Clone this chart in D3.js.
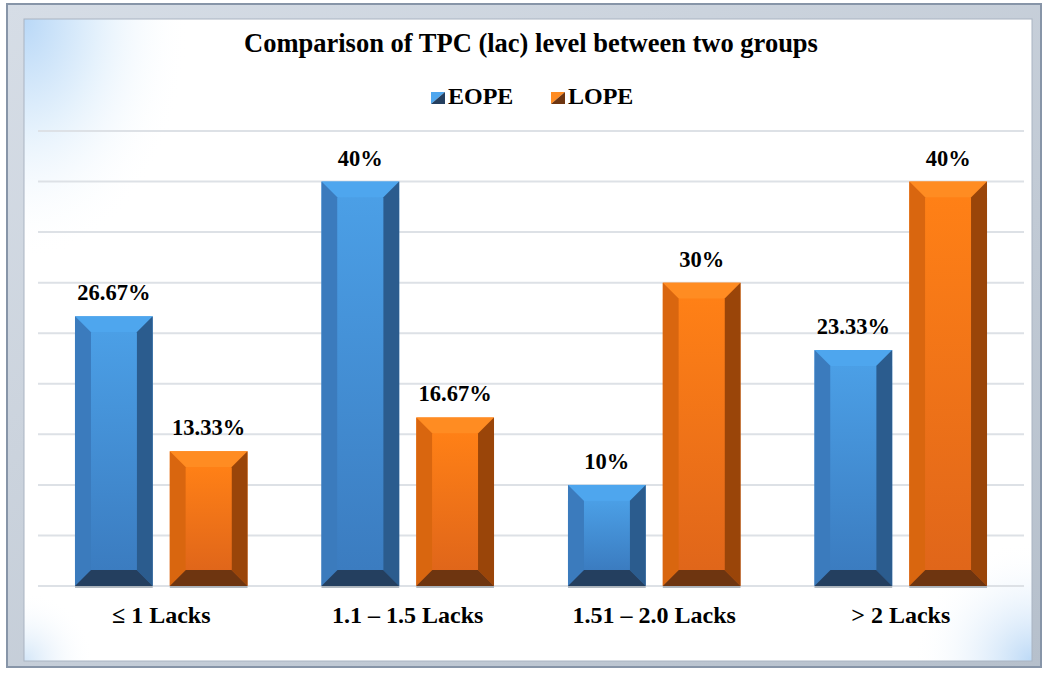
<!DOCTYPE html>
<html>
<head>
<meta charset="utf-8">
<script src="https://cdn.jsdelivr.net/npm/d3@7"></script>
<style>
  body { margin: 0; background: #fff; }
</style>
</head>
<body>
<div id="container"></div>
<script>
const width = 1042;
const height = 673;

const categories = ['\u2264 1 Lacks', '1.1 \u2013 1.5 Lacks', '1.51 \u2013 2.0 Lacks', '> 2 Lacks'];
const seriesNames = ['EOPE', 'LOPE'];
const eope = [26.67, 40, 10, 23.33];
const lope = [13.33, 16.67, 30, 40];
const valueLabels = [['26.67%', '40%', '10%', '23.33%'], ['13.33%', '16.67%', '30%', '40%']];
const gridTicks = [0, 5, 10, 15, 20, 25, 30, 35, 40, 45];

const FONT = "'Liberation Serif', 'Times New Roman', Times, serif";
const plot = { left: 38, right: 1024, top: 131, bottom: 586 };
const BEVEL = 16;

// blue and orange shades: top, left, center-top, center-bottom, right, bottom
const palettes = [
    { top: '#4ea6ee', left: '#3b7bbd', c1: '#4b9fe6', c2: '#3b7cc0', right: '#2b5c8e', bottom: '#243f5f' },
    { top: '#ff8c22', left: '#d9660f', c1: '#ff8016', c2: '#e0661a', right: '#9a4509', bottom: '#6e3510' }
];

let svg = d3.select('#container').append('svg')
    .attr('width', width)
    .attr('height', height)
    .attr('font-family', FONT)
    .attr('font-weight', 'bold');

let defs = svg.append('defs');

let frameGrad = defs.append('linearGradient').attr('id', 'frameGrad')
    .attr('x1', 0).attr('y1', 0).attr('x2', 1).attr('y2', 1);
frameGrad.append('stop').attr('offset', '0%').attr('stop-color', '#d6dde6');
frameGrad.append('stop').attr('offset', '100%').attr('stop-color', '#b6c0cc');

let glowTL = defs.append('radialGradient').attr('id', 'glowTL')
    .attr('gradientUnits', 'userSpaceOnUse')
    .attr('cx', 24).attr('cy', 19).attr('r', 220)
    .attr('gradientTransform', 'translate(24,19) scale(0.75,1.1) translate(-24,-19)');
glowTL.append('stop').attr('offset', '0%').attr('stop-color', '#b9d8f7');
glowTL.append('stop').attr('offset', '45%').attr('stop-color', '#e4f1fc');
glowTL.append('stop').attr('offset', '100%').attr('stop-color', '#ffffff').attr('stop-opacity', 0);

let glowBR = defs.append('radialGradient').attr('id', 'glowBR')
    .attr('gradientUnits', 'userSpaceOnUse')
    .attr('cx', 1032).attr('cy', 661).attr('r', 120);
glowBR.append('stop').attr('offset', '0%').attr('stop-color', '#bcd9f6');
glowBR.append('stop').attr('offset', '100%').attr('stop-color', '#ffffff').attr('stop-opacity', 0);

let glowBL = defs.append('radialGradient').attr('id', 'glowBL')
    .attr('gradientUnits', 'userSpaceOnUse')
    .attr('cx', 24).attr('cy', 661).attr('r', 70);
glowBL.append('stop').attr('offset', '0%').attr('stop-color', '#d3e6f8');
glowBL.append('stop').attr('offset', '100%').attr('stop-color', '#ffffff').attr('stop-opacity', 0);

palettes.forEach((p, i) => {
    let g = defs.append('linearGradient').attr('id', 'face' + i)
        .attr('x1', 0).attr('y1', 0).attr('x2', 0).attr('y2', 1);
    g.append('stop').attr('offset', '0%').attr('stop-color', p.c1);
    g.append('stop').attr('offset', '100%').attr('stop-color', p.c2);
});

// frame
svg.append('rect')
    .attr('x', 7).attr('y', 4).attr('width', 1034).attr('height', 663)
    .attr('fill', 'url(#frameGrad)')
    .attr('stroke', '#8795a8').attr('stroke-width', 2);
['#ffffff', 'url(#glowTL)', 'url(#glowBR)', 'url(#glowBL)'].forEach(f => {
    svg.append('rect')
        .attr('x', 24).attr('y', 19).attr('width', 1008).attr('height', 642)
        .attr('fill', f);
});
svg.append('rect')
    .attr('x', 24).attr('y', 19).attr('width', 1008).attr('height', 642)
    .attr('fill', 'none')
    .attr('stroke', '#a9b4c2').attr('stroke-width', 1);

let x0 = d3.scaleBand().domain(categories).range([plot.left, plot.right]).paddingInner(0.3).paddingOuter(0.15);
let x1 = d3.scaleBand().domain(seriesNames).range([0, x0.bandwidth()]).paddingInner(0.18);
let y = d3.scaleLinear().domain([0, 45]).range([plot.bottom, plot.top]);

// gridlines
svg.append('g')
    .selectAll('line')
    .data(gridTicks)
    .join('line')
    .attr('x1', plot.left).attr('x2', plot.right)
    .attr('y1', d => y(d)).attr('y2', d => y(d))
    .attr('stroke', '#dde1e6').attr('stroke-width', 2);

// title
svg.append('text')
    .attr('x', 531).attr('y', 52)
    .attr('text-anchor', 'middle')
    .attr('font-size', 26.5)
    .text('Comparison of TPC (lac) level between two groups');

// bars
let rows = [];
[eope, lope].forEach((vals, s) => {
    vals.forEach((v, i) => {
        rows.push({ cat: categories[i], series: seriesNames[s], s: s, value: v, label: valueLabels[s][i] });
    });
});

function bevelBar(g, x, yTop, w, yBot, p, s) {
    const b = Math.min(BEVEL, (yBot - yTop) / 2);
    const xr = x + w;
    g.append('rect').attr('x', x).attr('y', yTop).attr('width', w).attr('height', yBot - yTop).attr('fill', `url(#face${s})`);
    g.append('polygon').attr('fill', p.top)
        .attr('points', [[x, yTop], [xr, yTop], [xr - b, yTop + b], [x + b, yTop + b]].join(' '));
    g.append('polygon').attr('fill', p.left)
        .attr('points', [[x, yTop], [x + b, yTop + b], [x + b, yBot - b], [x, yBot]].join(' '));
    g.append('polygon').attr('fill', p.right)
        .attr('points', [[xr, yTop], [xr, yBot], [xr - b, yBot - b], [xr - b, yTop + b]].join(' '));
    g.append('polygon').attr('fill', p.bottom)
        .attr('points', [[x, yBot], [x + b, yBot - b], [xr - b, yBot - b], [xr, yBot]].join(' '));
    g.append('rect').attr('x', x + b).attr('y', yTop + b).attr('width', w - 2 * b).attr('height', yBot - yTop - 2 * b)
        .attr('fill', `url(#face${s})`);
    g.append('line').attr('x1', x).attr('x2', xr).attr('y1', yBot + 1).attr('y2', yBot + 1)
        .attr('stroke', '#9aa3ad').attr('stroke-width', 1.5);
}

let barG = svg.append('g');
rows.forEach(d => {
    let g = barG.append('g');
    bevelBar(g, x0(d.cat) + x1(d.series), y(d.value), x1.bandwidth(), y(0), palettes[d.s], d.s);
});

// value labels
svg.append('g')
    .selectAll('text')
    .data(rows)
    .join('text')
    .attr('x', d => x0(d.cat) + x1(d.series) + x1.bandwidth() / 2)
    .attr('y', d => y(d.value) - 16)
    .attr('text-anchor', 'middle')
    .attr('font-size', 22.5)
    .text(d => d.label);

// category labels
svg.append('g')
    .selectAll('text')
    .data(categories)
    .join('text')
    .attr('x', d => x0(d) + x0.bandwidth() / 2)
    .attr('y', 623)
    .attr('text-anchor', 'middle')
    .attr('font-size', 24)
    .text(d => d);

// legend
const legendX = [431, 551];
let legend = svg.append('g')
    .selectAll('g')
    .data(seriesNames)
    .join('g')
    .attr('transform', (d, i) => `translate(${legendX[i]},92)`);
legend.append('polygon')
    .attr('points', '0,0 14,0 0,12')
    .attr('fill', (d, i) => palettes[i].top);
legend.append('polygon')
    .attr('points', '14,0 14,12 0,12')
    .attr('fill', (d, i) => palettes[i].bottom);
legend.append('text')
    .attr('x', 17).attr('y', 12)
    .attr('font-size', 24)
    .text(d => d);
</script>
</body>
</html>
